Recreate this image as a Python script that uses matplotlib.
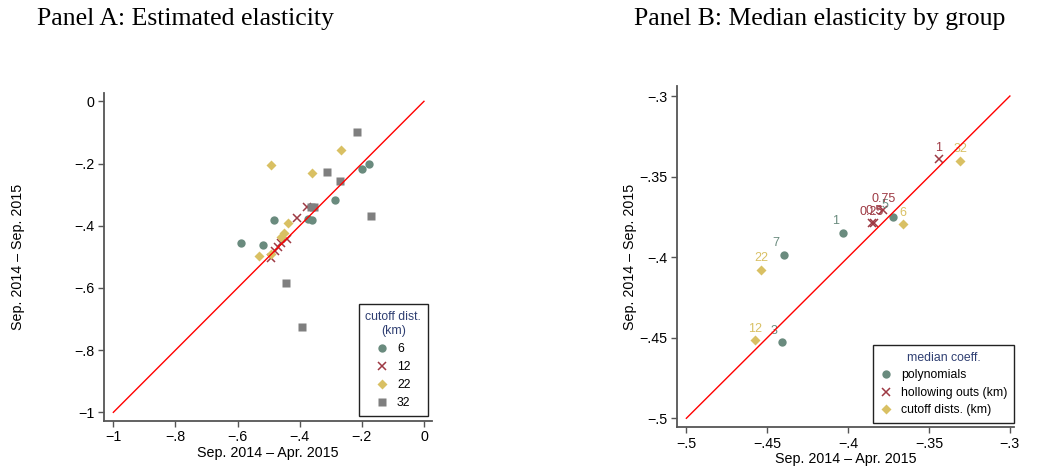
import matplotlib
matplotlib.use("Agg")
import matplotlib.pyplot as plt
from matplotlib.lines import Line2D

plt.rcParams['font.family'] = ['Liberation Sans', 'DejaVu Sans']

# ---------------- data ----------------
# Panel A: estimated elasticities by cutoff distance
a6_x = [-0.589, -0.519, -0.483, -0.373, -0.362, -0.288, -0.201, -0.176]
a6_y = [-0.456, -0.462, -0.381, -0.377, -0.383, -0.318, -0.219, -0.203]
a12_x = [-0.491, -0.478, -0.469, -0.460, -0.442, -0.410, -0.378]
a12_y = [-0.505, -0.480, -0.468, -0.455, -0.443, -0.375, -0.340]
a22_x = [-0.532, -0.493, -0.461, -0.450, -0.437, -0.491, -0.359, -0.267]
a22_y = [-0.497, -0.491, -0.435, -0.422, -0.391, -0.205, -0.231, -0.157]
a32_x = [-0.445, -0.393, -0.365, -0.355, -0.311, -0.269, -0.216, -0.172]
a32_y = [-0.584, -0.726, -0.341, -0.341, -0.227, -0.255, -0.099, -0.369]
a_groups = ["6", "12", "22", "32"]

# Panel B: median coefficients by group
poly_lab = ["1", "3", "5", "7"]
poly_x = [-0.403, -0.441, -0.3724, -0.4398]
poly_y = [-0.3849, -0.4527, -0.3749, -0.3985]
hol_lab = ["0.25", "0.5", "0.75", "1"]
hol_x = [-0.3854, -0.3840, -0.3782, -0.3438]
hol_y = [-0.3790, -0.3785, -0.3708, -0.3393]
cut_lab = ["6", "12", "22", "32"]
cut_x = [-0.3663, -0.4577, -0.4536, -0.3307]
cut_y = [-0.3795, -0.4515, -0.4080, -0.3402]

a_xticks = [-1, -0.8, -0.6, -0.4, -0.2, 0]
a_xticklabels = ["\u22121", "\u2212.8", "\u2212.6", "\u2212.4", "\u2212.2", "0"]
a_yticks = a_xticks
a_yticklabels = a_xticklabels
b_ticks = [-0.5, -0.45, -0.4, -0.35, -0.3]
b_ticklabels = ["\u2212.5", "\u2212.45", "\u2212.4", "\u2212.35", "\u2212.3"]

# ---------------- style ----------------
C_GREEN = "#6a8b7e"
C_RED = "#9e3a44"
C_GOLD = "#d9c063"
C_GRAY = "#7f7f7f"
C_NAVY = "#2f3f72"
SPINE = "#555555"

fig = plt.figure(figsize=(10.54, 4.67), dpi=100)
axA = fig.add_axes([0.0987, 0.0991, 0.3115, 0.7024])
axB = fig.add_axes([0.6426, 0.0850, 0.3197, 0.7308])


def style_axes(ax):
    for s in ["top", "right"]:
        ax.spines[s].set_visible(False)
    for s in ["left", "bottom"]:
        ax.spines[s].set_color(SPINE)
        ax.spines[s].set_linewidth(1.3)
    ax.tick_params(direction="out", length=4, width=1.0, color=SPINE,
                   labelsize=10.3, pad=3)


# ---- Panel A ----
axA.plot(a6_x, a6_y, linestyle="none", marker="o", ms=6.0,
         color=C_GREEN, mec="none", zorder=3)
axA.plot(a12_x, a12_y, linestyle="none", marker="x", ms=6.0, mew=1.1,
         color=C_RED, zorder=3)
axA.plot(a22_x, a22_y, linestyle="none", marker="D", ms=5.4,
         color=C_GOLD, mec="none", zorder=3)
axA.plot(a32_x, a32_y, linestyle="none", marker="s", ms=6.0,
         color=C_GRAY, mec="none", zorder=3)
axA.plot([-1, 0], [-1, 0], color="red", lw=1.0, zorder=4)
axA.set_xlim(-1.03, 0.027)
axA.set_ylim(-1.027, 0.0277)
axA.set_xticks(a_xticks)
axA.set_xticklabels(a_xticklabels)
axA.set_yticks(a_yticks)
axA.set_yticklabels(a_yticklabels)
style_axes(axA)
axA.set_xlabel("Sep. 2014 \u2013 Apr. 2015", fontsize=10.3, labelpad=1)
axA.set_ylabel("Sep. 2014 \u2013 Sep. 2015", fontsize=10.3, labelpad=35)

handlesA = [
    Line2D([], [], linestyle="none", marker="o", ms=6.0, color=C_GREEN, mec="none"),
    Line2D([], [], linestyle="none", marker="x", ms=6.0, mew=1.1, color=C_RED),
    Line2D([], [], linestyle="none", marker="D", ms=5.4, color=C_GOLD, mec="none"),
    Line2D([], [], linestyle="none", marker="s", ms=6.0, color=C_GRAY, mec="none"),
]
legA = axA.legend(handlesA, a_groups, title="cutoff dist.\n(km)",
                  loc="lower right", bbox_to_anchor=(0.987, 0.014),
                  fontsize=8.8, title_fontsize=8.8, frameon=True,
                  fancybox=False, framealpha=1, edgecolor="#222222",
                  handlelength=1.0, handletextpad=0.7, borderpad=0.55,
                  labelspacing=0.5, borderaxespad=0)
legA.get_title().set_color(C_NAVY)
legA.get_title().set_multialignment("center")
legA.get_frame().set_linewidth(1.0)
legA.set_zorder(10)

# ---- Panel B ----
axB.plot(poly_x, poly_y, linestyle="none", marker="o", ms=6.0,
         color=C_GREEN, mec="none", zorder=3)
axB.plot(hol_x, hol_y, linestyle="none", marker="x", ms=6.0, mew=1.1,
         color=C_RED, zorder=3)
axB.plot(cut_x, cut_y, linestyle="none", marker="D", ms=5.4,
         color=C_GOLD, mec="none", zorder=3)
axB.plot([-0.5, -0.3], [-0.5, -0.3], color="red", lw=1.0, zorder=4)

for lab, x, y in zip(poly_lab, poly_x, poly_y):
    axB.annotate(lab, (x, y), xytext=(-3, 4), textcoords="offset points",
                 ha="right", va="bottom", fontsize=9, color=C_GREEN, zorder=3)
for lab, x, y in zip(hol_lab, hol_x, hol_y):
    axB.annotate(lab, (x, y), xytext=(0, 4), textcoords="offset points",
                 ha="center", va="bottom", fontsize=9, color=C_RED, zorder=3)
for lab, x, y in zip(cut_lab, cut_x, cut_y):
    axB.annotate(lab, (x, y), xytext=(0, 4), textcoords="offset points",
                 ha="center", va="bottom", fontsize=9, color=C_GOLD, zorder=3)

axB.set_xlim(-0.5056, -0.2973)
axB.set_ylim(-0.5056, -0.2938)
axB.set_xticks(b_ticks)
axB.set_xticklabels(b_ticklabels)
axB.set_yticks(b_ticks)
axB.set_yticklabels(b_ticklabels)
style_axes(axB)
axB.set_xlabel("Sep. 2014 \u2013 Apr. 2015", fontsize=10.3, labelpad=1)
axB.set_ylabel("Sep. 2014 \u2013 Sep. 2015", fontsize=10.3, labelpad=2)

handlesB = [
    Line2D([], [], linestyle="none", marker="o", ms=6.0, color=C_GREEN, mec="none"),
    Line2D([], [], linestyle="none", marker="x", ms=6.0, mew=1.1, color=C_RED),
    Line2D([], [], linestyle="none", marker="D", ms=5.4, color=C_GOLD, mec="none"),
]
legB = axB.legend(handlesB, ["polynomials", "hollowing outs (km)", "cutoff dists. (km)"],
                  title="median coeff.", loc="lower right",
                  bbox_to_anchor=(0.999, 0.0126),
                  fontsize=8.8, title_fontsize=8.8, frameon=True,
                  fancybox=False, framealpha=1, edgecolor="#222222",
                  handlelength=1.0, handletextpad=0.7, borderpad=0.55,
                  labelspacing=0.45, borderaxespad=0)
legB.get_title().set_color(C_NAVY)
legB.get_frame().set_linewidth(1.0)
legB.set_zorder(10)

# ---- titles ----
fig.text(185 / 1054, 1 - 19 / 467, "Panel A: Estimated elasticity",
         ha="center", va="center", fontsize=18.5,
         family=["Liberation Serif", "DejaVu Serif"])
fig.text(820 / 1054, 1 - 19 / 467, "Panel B: Median elasticity by group",
         ha="center", va="center", fontsize=18.5,
         family=["Liberation Serif", "DejaVu Serif"])

fig.savefig("out.png", dpi=100)
